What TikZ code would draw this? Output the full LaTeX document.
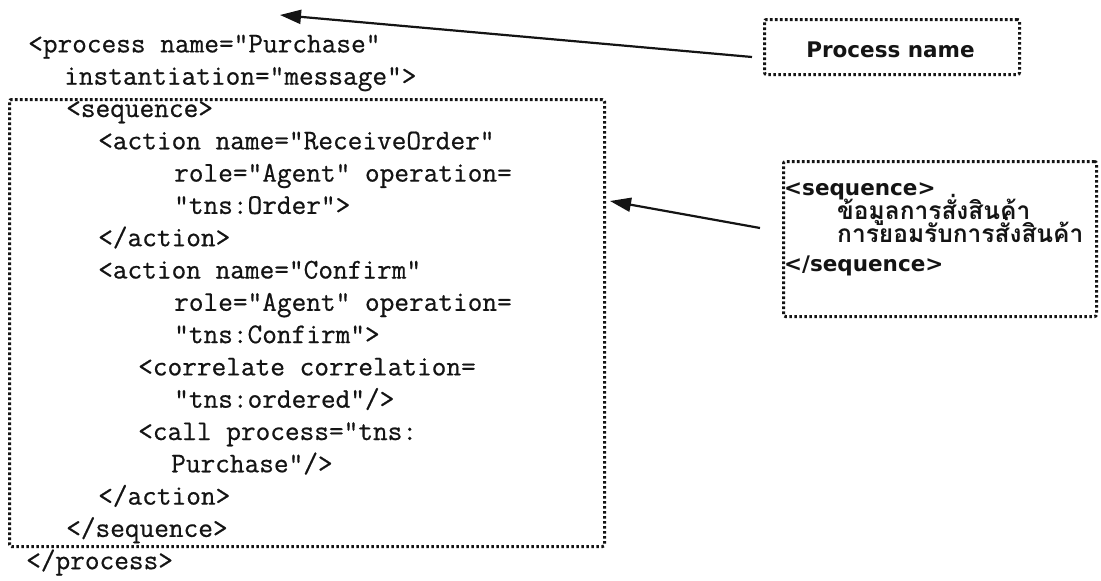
\documentclass[tikz,border=0pt]{standalone}
\usepackage{fontspec}
\usetikzlibrary{arrows.meta}
\newfontfamily\labelfont{DejaVu Sans}
\newfontfamily\thaifont[Script=Thai]{Loma}
\newfontfamily\codefont{Latin Modern Mono}[FakeBold=0.6]
\definecolor{ink}{HTML}{141414}
\tikzset{
  code/.style={anchor=base west, inner sep=0pt, text=ink,
    font=\codefont\fontsize{28.5}{32}\selectfont},
  dotbox/.style={draw=ink, line width=3pt, dash pattern=on 2.6pt off 2.4pt,
    rounded corners=2pt, inner sep=0pt},
  lbl/.style={anchor=base west, inner sep=0pt, text=ink,
    font=\labelfont\bfseries\fontsize{21.5}{24}\selectfont},
  thai/.style={anchor=base west, inner sep=0pt, text=ink,
    font=\thaifont\bfseries\fontsize{24.5}{26}\selectfont},
  pointer/.style={draw=ink, line width=2.2pt, -{Triangle[length=21pt,width=14pt]}}
}
\begin{document}
\begin{tikzpicture}[x=1pt,y=-1pt]
\useasboundingbox (0,0) rectangle (1101,581);
\fill[white] (0,0) rectangle (1101,581);
% code listing
\node[code] (l1)  at (28,52.4)  {<process name="Purchase"};
\node[code] (l2)  at (64,84.7)  {instantiation="message">};
\node[code] (l3)  at (66,117)   {<sequence>};
\node[code] (l4)  at (98,149.3) {<action name="ReceiveOrder"};
\node[code] (l5)  at (174,181.6){role="Agent" operation=};
\node[code] (l6)  at (174,213.9){"tns:Order">};
\node[code] (l7)  at (98,246.2) {</action>};
\node[code] (l8)  at (98,278.5) {<action name="Confirm"};
\node[code] (l9)  at (174,310.8){role="Agent" operation=};
\node[code] (l10) at (174,343.1){"tns:Confirm">};
\node[code] (l11) at (138,375.4){<correlate correlation=};
\node[code] (l12) at (174,407.7){"tns:ordered"/>};
\node[code] (l13) at (138,440)  {<call process="tns:};
\node[code] (l14) at (171,472.3){Purchase"/>};
\node[code] (l15) at (98,504.6) {</action>};
\node[code] (l16) at (66,536.9) {</sequence>};
\node[code] (l17) at (26,569.2) {</process>};
% sequence frame
\node[dotbox, anchor=north west, minimum width=595pt, minimum height=447pt] (seqbox) at (8,98) {};
% Process name label
\node[dotbox, anchor=north west, minimum width=255pt, minimum height=55pt] (pbox) at (763,18) {};
\node[lbl, anchor=base] (ptxt) at (890.5,57) {Process name};
% sequence label
\node[dotbox, anchor=north west, minimum width=313pt, minimum height=155pt] (sbox) at (782,160) {};
\node[lbl] (s1) at (784,195) {<sequence>};
\node[thai] (s2) at (837,219) {ข้อมูลการสั่งสินค้า};
\node[thai] (s3) at (837,242) {การยอมรับการสั่งสินค้า};
\node[lbl] (s4) at (784,271) {</sequence>};
% arrows
\coordinate (a1s) at (752,57);
\coordinate (a1e) at (280,15);
\coordinate (a2s) at (760,228);
\coordinate (a2e) at (610,201);
\draw[pointer] (a1s) -- (a1e);
\draw[pointer] (a2s) -- (a2e);
\end{tikzpicture}
\end{document}
